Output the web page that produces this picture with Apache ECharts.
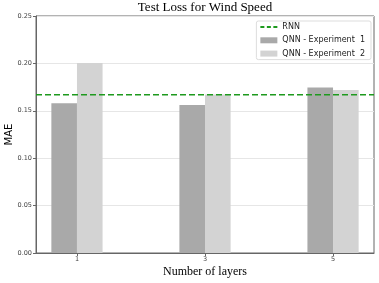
<!DOCTYPE html>
<html>
<head>
<meta charset="utf-8">
<script src="https://cdn.jsdelivr.net/npm/echarts@6/dist/echarts.min.js"></script>
<style>html,body{margin:0;padding:0;background:#fff;}#c{width:379px;height:283px;}</style>
</head>
<body>
<div id="c"></div>
<script>
const layers = [1, 3, 5];
const exp1 = [0.158, 0.156, 0.1745];
const exp2 = [0.2005, 0.1672, 0.172];
const rnn = 0.167;
const yTicks = [0, 0.05, 0.10, 0.15, 0.20, 0.25];

const chart = echarts.init(document.getElementById('c'), null, {renderer: 'canvas'});
const off = 0.2;
chart.setOption({
  animation: false,
  backgroundColor: '#fff',
  title: {
    text: 'Test Loss for Wind Speed',
    left: 205, top: 1, textAlign: 'center', padding: 0,
    textStyle: {fontFamily: 'Liberation Serif', fontSize: 13, fontWeight: 'normal', color: '#000'}
  },
  legend: {
    orient: 'vertical', right: 8, top: 21,
    itemWidth: 17, itemHeight: 6, itemGap: 4.3,
    padding: [1.5, 6, 1.5, 4],
    borderColor: '#ddd', borderWidth: 1, borderRadius: 2,
    backgroundColor: 'rgba(255,255,255,0.8)',
    textStyle: {fontFamily: 'DejaVu Sans', fontSize: 8, color: '#222', lineHeight: 9},
    data: [
      {name: 'RNN', icon: 'path://M0,0h4v2h-4zM6.5,0h4v2h-4zM13,0h4v2h-4z'},
      {name: 'QNN - Experiment  1', icon: 'rect'},
      {name: 'QNN - Experiment  2', icon: 'rect'}
    ]
  },
  grid: {left: 36, right: 5, top: 16, bottom: 30, show: true, borderColor: '#666', borderWidth: 1,
    containLabel: false, outerBoundsMode: 'none'},
  xAxis: {
    type: 'value', min: 0.36, max: 5.64,
    name: 'Number of layers', nameLocation: 'middle', nameGap: 13, nameMoveOverlap: false,
    nameTextStyle: {fontFamily: 'Liberation Serif', fontSize: 12, color: '#000'},
    axisLine: {show: true, lineStyle: {color: '#666'}},
    axisTick: {show: true, length: 3, customValues: layers, lineStyle: {color: '#666'}},
    axisLabel: {customValues: layers, fontFamily: 'DejaVu Sans', fontSize: 6.5, color: '#444', margin: 3},
    splitLine: {show: false}
  },
  yAxis: {
    type: 'value', min: 0, max: 0.25, interval: 0.05,
    name: 'MAE', nameLocation: 'middle', nameGap: 22, nameMoveOverlap: false,
    nameTextStyle: {fontFamily: 'DejaVu Sans', fontSize: 10, color: '#000'},
    axisLine: {show: true, lineStyle: {color: '#666'}},
    axisTick: {show: true, length: 3, lineStyle: {color: '#666'}},
    axisLabel: {fontFamily: 'DejaVu Sans', fontSize: 6.5, color: '#444', margin: 4,
      formatter: v => v.toFixed(2)},
    splitLine: {show: true, lineStyle: {color: '#e6e6e6', width: 1}}
  },
  series: [
    {
      name: 'RNN', type: 'line', symbol: 'none', z: 5,
      data: [[0.36, rnn], [5.64, rnn]],
      lineStyle: {color: '#1e9a1e', type: [6, 3], width: 1.5},
      itemStyle: {color: '#1e9a1e'}
    },
    {
      name: 'QNN - Experiment  1', type: 'bar', barWidth: 25.6, barGap: '-100%',
      data: layers.map((l, i) => [l - off, exp1[i]]),
      itemStyle: {color: '#a9a9a9'}
    },
    {
      name: 'QNN - Experiment  2', type: 'bar', barWidth: 25.6, barGap: '-100%',
      data: layers.map((l, i) => [l + off, exp2[i]]),
      itemStyle: {color: '#d3d3d3'}
    }
  ]
});
</script>
</body>
</html>
